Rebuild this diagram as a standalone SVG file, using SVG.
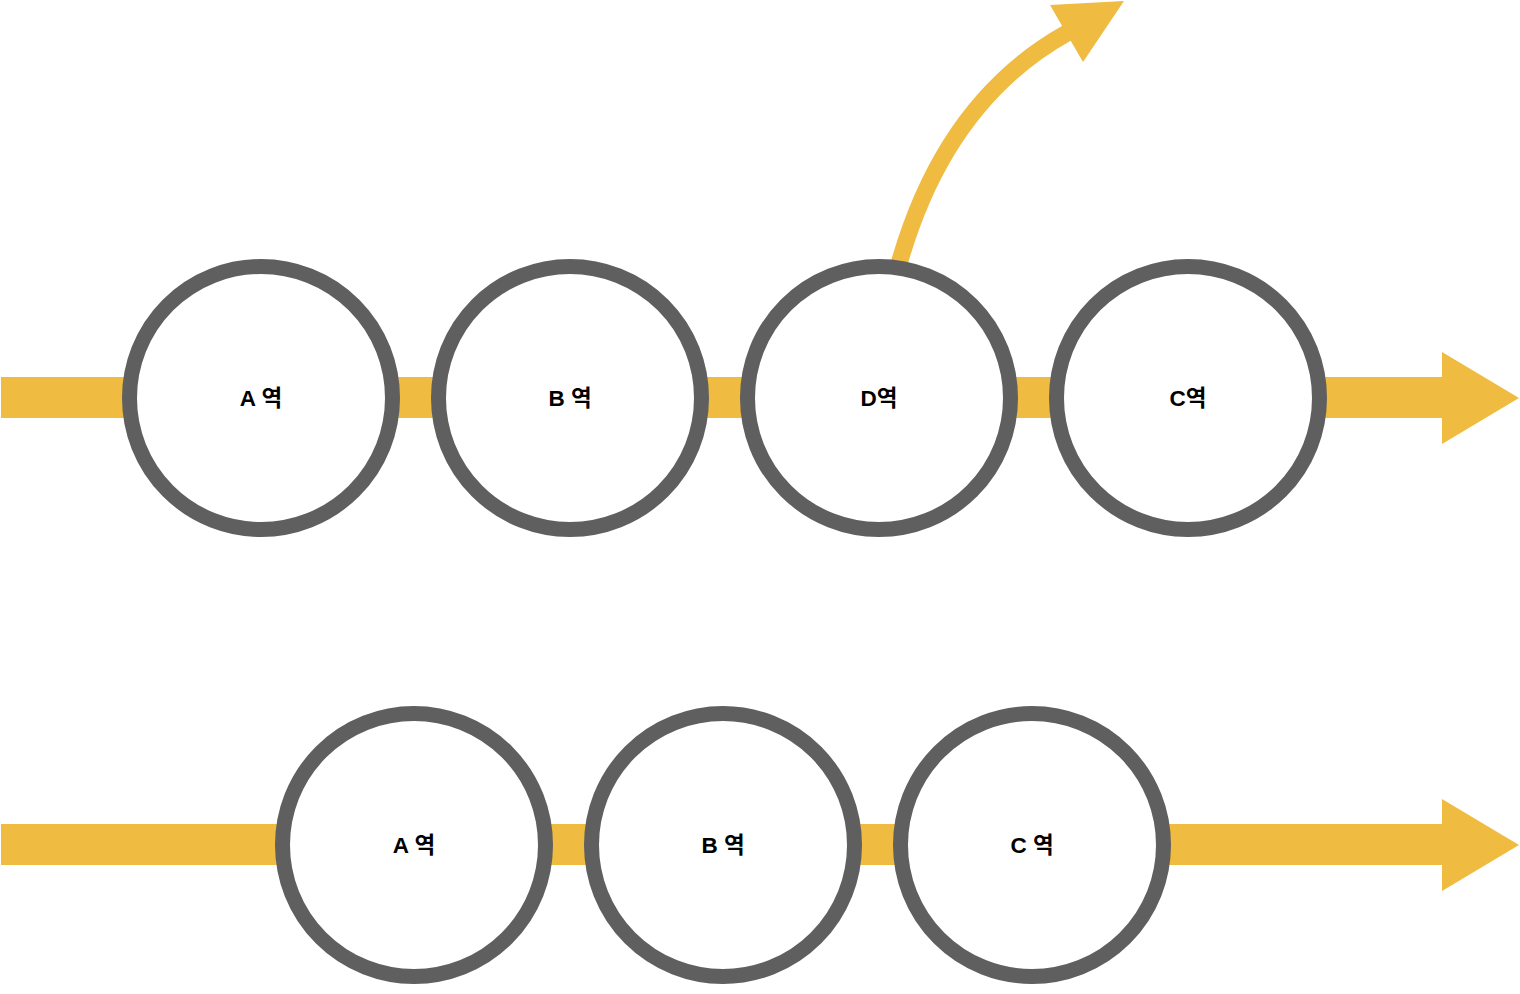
<svg xmlns="http://www.w3.org/2000/svg" width="1520" height="994" viewBox="0 0 1520 994">
<style>
.band{fill:#EFBB40}
.st{fill:#FFFFFF;stroke:#5F5F5F;stroke-width:15}
.lb{font-family:"Liberation Sans","Noto Sans CJK KR",sans-serif;font-weight:bold;font-size:22.5px;fill:#000;text-anchor:middle;dominant-baseline:central}
</style>
<rect width="1520" height="994" fill="#FFFFFF"/>
<g id="connectors">
<rect class="band" x="1" y="377" width="1442" height="41"/>
<polygon class="band" points="1442,352 1519,398 1442,444"/>
<path d="M899,264 Q945,101 1067,33" fill="none" stroke="#EFBB40" stroke-width="17"/>
<polygon class="band" points="1050,5 1124,1 1083,62"/>
<rect class="band" x="1" y="824" width="1442" height="41"/>
<polygon class="band" points="1442,799 1519,845 1442,891"/>
</g>
<g id="top-A"><circle class="st" cx="261" cy="398" r="131.5"/><text class="lb" x="261" y="398">A 역</text></g>
<g id="top-B"><circle class="st" cx="570" cy="398" r="131.5"/><text class="lb" x="570" y="398">B 역</text></g>
<g id="top-D"><circle class="st" cx="879" cy="398" r="131.5"/><text class="lb" x="879" y="398">D역</text></g>
<g id="top-C"><circle class="st" cx="1188" cy="398" r="131.5"/><text class="lb" x="1188" y="398">C역</text></g>
<g id="bot-A"><circle class="st" cx="414" cy="845" r="131.5"/><text class="lb" x="414" y="845">A 역</text></g>
<g id="bot-B"><circle class="st" cx="723" cy="845" r="131.5"/><text class="lb" x="723" y="845">B 역</text></g>
<g id="bot-C"><circle class="st" cx="1032" cy="845" r="131.5"/><text class="lb" x="1032" y="845">C 역</text></g>
</svg>
